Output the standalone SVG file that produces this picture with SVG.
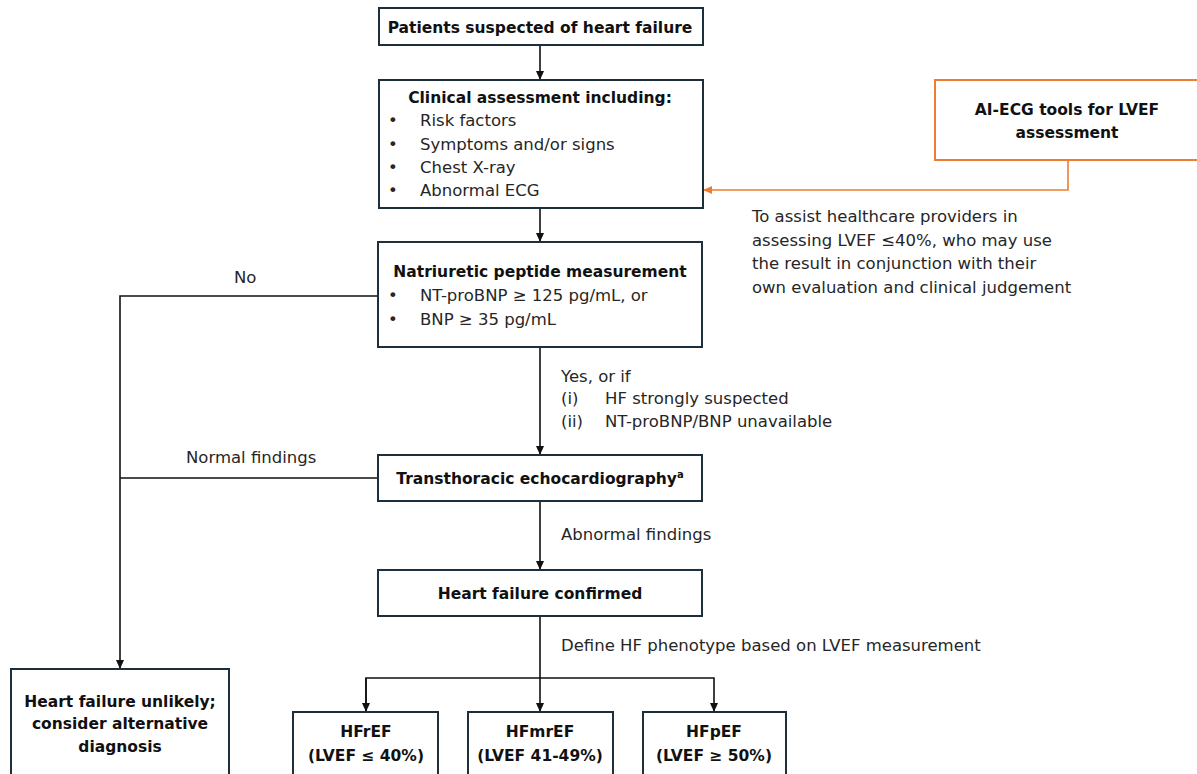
<svg xmlns="http://www.w3.org/2000/svg" width="1197" height="774" viewBox="0 0 1197 774">
<style>
.box{fill:#fff;stroke:#1e2f3c;stroke-width:2}
.obox{fill:#fff;stroke:#ed7d31;stroke-width:2}
.b{font-family:"DejaVu Sans","Liberation Sans",Arial,sans-serif;font-weight:bold;font-size:15.5px;fill:#111}
.t{font-family:"DejaVu Sans","Liberation Sans",Arial,sans-serif;font-size:16.5px;fill:#262626}
.c{text-anchor:middle}
.ln{fill:none;stroke:#111;stroke-width:1.6}
.ol{fill:none;stroke:#ed7d31;stroke-width:1.6}
</style>
<defs>
<marker id="ah" markerWidth="10" markerHeight="10" refX="8" refY="5" orient="auto" markerUnits="userSpaceOnUse"><path d="M0,1 L9,5 L0,9 Z" fill="#111"/></marker>
<marker id="oh" markerWidth="10" markerHeight="10" refX="8" refY="5" orient="auto" markerUnits="userSpaceOnUse"><path d="M0,1 L9,5 L0,9 Z" fill="#ed7d31"/></marker>
</defs>
<g id="connectors">
<line class="ln" x1="540" y1="46" x2="540" y2="79" marker-end="url(#ah)"/>
<line class="ln" x1="540" y1="208" x2="540" y2="241" marker-end="url(#ah)"/>
<line class="ln" x1="540" y1="348" x2="540" y2="454" marker-end="url(#ah)"/>
<line class="ln" x1="540" y1="501" x2="540" y2="569" marker-end="url(#ah)"/>
<polyline class="ln" points="378,296 120,296 120,668" marker-end="url(#ah)"/>
<line class="ln" x1="378" y1="478" x2="120" y2="478"/>
<line class="ln" x1="540" y1="616" x2="540" y2="711" marker-end="url(#ah)"/>
<polyline class="ln" points="366,711 366,678 714,678 714,711" marker-end="url(#ah)"/>
<line class="ln" x1="366" y1="678" x2="366" y2="711" marker-end="url(#ah)"/>
<polyline class="ol" points="1068,160 1068,190 704,190" marker-end="url(#oh)"/>
</g>
<g id="patients">
<rect class="box" x="379" y="8" width="324" height="37"/>
<text class="b c" x="540" y="33">Patients suspected of heart failure</text>
</g>
<g id="clinical">
<rect class="box" x="379" y="80" width="324" height="128"/>
<text class="b c" x="540" y="103">Clinical assessment including:</text>
<text class="t" x="388" y="126">•</text><text class="t" x="420" y="126">Risk factors</text>
<text class="t" x="388" y="150">•</text><text class="t" x="420" y="150">Symptoms and/or signs</text>
<text class="t" x="388" y="173">•</text><text class="t" x="420" y="173">Chest X-ray</text>
<text class="t" x="388" y="196">•</text><text class="t" x="420" y="196">Abnormal ECG</text>
</g>
<g id="aiecg">
<rect class="obox" x="935" y="80" width="270" height="80"/>
<text class="b c" x="1067" y="115">AI-ECG tools for LVEF</text>
<text class="b c" x="1067" y="138">assessment</text>
</g>
<g id="ai-note">
<text class="t" x="752" y="222">To assist healthcare providers in</text>
<text class="t" x="752" y="246">assessing LVEF ≤40%, who may use</text>
<text class="t" x="752" y="269">the result in conjunction with their</text>
<text class="t" x="752" y="293">own evaluation and clinical judgement</text>
</g>
<g id="natriuretic">
<rect class="box" x="378" y="242" width="324" height="105"/>
<text class="b c" x="540" y="277">Natriuretic peptide measurement</text>
<text class="t" x="388" y="301">•</text><text class="t" x="420" y="301">NT-proBNP ≥ 125 pg/mL, or</text>
<text class="t" x="388" y="325">•</text><text class="t" x="420" y="325">BNP ≥ 35 pg/mL</text>
</g>
<g id="labels">
<text class="t" x="234" y="283">No</text>
<text class="t" x="561" y="382">Yes, or if</text>
<text class="t" x="561" y="404">(i)</text><text class="t" x="605" y="404">HF strongly suspected</text>
<text class="t" x="561" y="427">(ii)</text><text class="t" x="605" y="427">NT-proBNP/BNP unavailable</text>
<text class="t" x="186" y="463">Normal findings</text>
<text class="t" x="561" y="540">Abnormal findings</text>
<text class="t" x="561" y="651">Define HF phenotype based on LVEF measurement</text>
</g>
<g id="tte">
<rect class="box" x="378" y="455" width="324" height="46"/>
<text class="b c" x="540" y="484">Transthoracic echocardiography<tspan font-size="10" dy="-6">a</tspan></text>
</g>
<g id="confirmed">
<rect class="box" x="378" y="570" width="324" height="46"/>
<text class="b c" x="540" y="599">Heart failure confirmed</text>
</g>
<g id="unlikely">
<rect class="box" x="11" y="669" width="218" height="120"/>
<text class="b c" x="120" y="707">Heart failure unlikely;</text>
<text class="b c" x="120" y="729">consider alternative</text>
<text class="b c" x="120" y="752">diagnosis</text>
</g>
<g id="hfref">
<rect class="box" x="293" y="712" width="145" height="80"/>
<text class="b c" x="366" y="737">HFrEF</text>
<text class="b c" x="366" y="761">(LVEF ≤ 40%)</text>
</g>
<g id="hfmref">
<rect class="box" x="468" y="712" width="145" height="80"/>
<text class="b c" x="540" y="737">HFmrEF</text>
<text class="b c" x="540" y="761">(LVEF 41-49%)</text>
</g>
<g id="hfpef">
<rect class="box" x="643" y="712" width="143" height="80"/>
<text class="b c" x="714" y="737">HFpEF</text>
<text class="b c" x="714" y="761">(LVEF ≥ 50%)</text>
</g>
</svg>
